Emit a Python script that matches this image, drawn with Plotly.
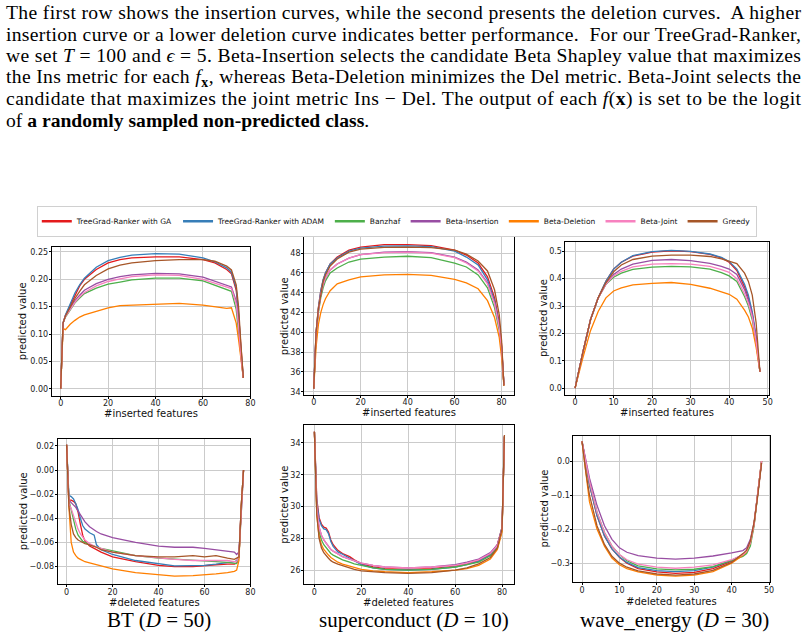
import json
import plotly.graph_objects as go

W, H = 805, 639

NAMES = ["TreeGrad-Ranker with GA", "TreeGrad-Ranker with ADAM", "Banzhaf",
         "Beta-Insertion", "Beta-Deletion", "Beta-Joint", "Greedy"]
COLORS = ["#e41a1c", "#377eb8", "#4daf4a", "#984ea3", "#ff7f00", "#f781bf", "#a65628"]

# ---------------- BT insertion ----------------
X1 = [0, 1, 2, 4, 6, 8, 10, 15, 20, 25, 30, 40, 50, 60, 65, 70, 72, 74, 75, 76, 77]
BT_INS = {
    "TreeGrad-Ranker with GA":   [0, 0.12, 0.134, 0.153, 0.172, 0.188, 0.2, 0.218, 0.23, 0.236, 0.239, 0.241, 0.241, 0.236, 0.23, 0.218, 0.21, 0.18, 0.135, 0.07, 0.02],
    "TreeGrad-Ranker with ADAM": [0, 0.12, 0.135, 0.155, 0.175, 0.19, 0.202, 0.222, 0.234, 0.240, 0.244, 0.247, 0.246, 0.239, 0.232, 0.221, 0.213, 0.185, 0.14, 0.07, 0.02],
    "Banzhaf":                   [0, 0.12, 0.131, 0.145, 0.157, 0.166, 0.174, 0.184, 0.191, 0.195, 0.199, 0.202, 0.202, 0.197, 0.189, 0.181, 0.178, 0.145, 0.1, 0.055, 0.02],
    "Beta-Insertion":            [0, 0.12, 0.133, 0.148, 0.161, 0.171, 0.18, 0.192, 0.2, 0.205, 0.208, 0.211, 0.21, 0.204, 0.196, 0.189, 0.186, 0.16, 0.12, 0.06, 0.02],
    "Beta-Deletion":             [0, 0.11, 0.108, 0.118, 0.125, 0.131, 0.135, 0.141, 0.148, 0.152, 0.153, 0.155, 0.156, 0.153, 0.150, 0.147, 0.148, 0.12, 0.09, 0.05, 0.02],
    "Beta-Joint":                [0, 0.12, 0.132, 0.146, 0.158, 0.168, 0.176, 0.188, 0.196, 0.201, 0.205, 0.208, 0.207, 0.200, 0.193, 0.186, 0.183, 0.155, 0.115, 0.06, 0.02],
    "Greedy":                    [0, 0.12, 0.133, 0.15, 0.165, 0.178, 0.19, 0.207, 0.219, 0.226, 0.23, 0.234, 0.236, 0.236, 0.233, 0.224, 0.217, 0.19, 0.15, 0.08, 0.02],
}

# ---------------- superconduct insertion ----------------
X2 = [0, 1, 2, 3, 4, 5, 7, 10, 15, 20, 30, 40, 50, 60, 65, 70, 74, 77, 79, 80, 81]
SC_INS = {
    "TreeGrad-Ranker with GA":   [34.3, 40.0, 42.5, 44.2, 45.3, 46.0, 46.9, 47.6, 48.3, 48.6, 48.85, 48.85, 48.75, 48.3, 47.8, 47.0, 45.6, 43.5, 41.0, 38.8, 34.7],
    "TreeGrad-Ranker with ADAM": [34.3, 40.0, 42.5, 44.2, 45.3, 46.0, 46.9, 47.5, 48.2, 48.5, 48.7, 48.72, 48.65, 48.2, 47.6, 46.8, 45.3, 43.2, 40.8, 38.6, 34.7],
    "Banzhaf":                   [34.3, 39.6, 42.0, 43.5, 44.5, 45.2, 46.0, 46.5, 47.1, 47.4, 47.6, 47.68, 47.55, 47.0, 46.6, 45.8, 44.5, 42.5, 40.2, 38.2, 34.7],
    "Beta-Insertion":            [34.3, 39.8, 42.2, 43.8, 44.8, 45.5, 46.3, 46.9, 47.5, 47.85, 48.1, 48.15, 48.05, 47.6, 47.1, 46.3, 45.0, 43.0, 40.6, 38.5, 34.7],
    "Beta-Deletion":             [34.3, 38.5, 40.8, 42.0, 42.8, 43.4, 44.2, 44.9, 45.3, 45.6, 45.8, 45.85, 45.75, 45.35, 45.0, 44.4, 43.2, 41.5, 39.5, 37.5, 34.6],
    "Beta-Joint":                [34.3, 39.8, 42.2, 43.8, 44.8, 45.5, 46.3, 46.9, 47.5, 47.85, 48.05, 48.1, 48.0, 47.55, 47.0, 46.2, 44.9, 42.9, 40.5, 38.4, 34.7],
    "Greedy":                    [34.3, 40.0, 42.4, 44.0, 45.1, 45.8, 46.7, 47.4, 48.1, 48.4, 48.58, 48.6, 48.55, 48.3, 47.9, 47.2, 46.2, 44.3, 41.8, 39.2, 34.6],
}

# ---------------- wave_energy insertion ----------------
X3 = [0, 1, 2, 4, 6, 8, 10, 12, 15, 20, 25, 30, 35, 38, 40, 42, 44, 45, 46, 47, 48]
WE_INS = {
    "TreeGrad-Ranker with GA":   [0, 0.07, 0.13, 0.25, 0.33, 0.39, 0.435, 0.46, 0.482, 0.497, 0.502, 0.499, 0.489, 0.476, 0.46, 0.43, 0.37, 0.33, 0.27, 0.18, 0.06],
    "TreeGrad-Ranker with ADAM": [0, 0.07, 0.13, 0.25, 0.33, 0.39, 0.435, 0.46, 0.484, 0.499, 0.503, 0.5, 0.49, 0.478, 0.463, 0.435, 0.38, 0.34, 0.28, 0.19, 0.06],
    "Banzhaf":                   [0, 0.07, 0.13, 0.25, 0.33, 0.38, 0.405, 0.42, 0.434, 0.442, 0.445, 0.443, 0.435, 0.422, 0.41, 0.39, 0.335, 0.3, 0.25, 0.165, 0.06],
    "Beta-Insertion":            [0, 0.07, 0.13, 0.25, 0.33, 0.38, 0.415, 0.435, 0.453, 0.467, 0.47, 0.466, 0.456, 0.445, 0.435, 0.415, 0.36, 0.32, 0.27, 0.18, 0.06],
    "Beta-Deletion":             [0, 0.06, 0.11, 0.21, 0.28, 0.33, 0.355, 0.366, 0.377, 0.383, 0.386, 0.379, 0.365, 0.352, 0.343, 0.325, 0.285, 0.26, 0.22, 0.15, 0.06],
    "Beta-Joint":                [0, 0.07, 0.13, 0.25, 0.33, 0.38, 0.41, 0.427, 0.443, 0.453, 0.455, 0.453, 0.445, 0.433, 0.423, 0.4, 0.345, 0.31, 0.26, 0.17, 0.06],
    "Greedy":                    [0, 0.07, 0.13, 0.25, 0.33, 0.385, 0.425, 0.45, 0.47, 0.482, 0.486, 0.486, 0.481, 0.472, 0.463, 0.455, 0.42, 0.39, 0.34, 0.24, 0.06],
}

# ---------------- BT deletion ----------------
X4 = [0, 1, 2, 3, 4, 5, 6, 7, 8, 10, 12, 13, 15, 20, 30, 40, 47, 55, 60, 65, 70, 73, 74, 75, 76, 77]
BT_DEL = {
    "TreeGrad-Ranker with GA":   [0.021, -0.025, -0.025, -0.026, -0.028, -0.035, -0.045, -0.054, -0.059, -0.063, -0.065, -0.066, -0.068, -0.072, -0.076, -0.079, -0.08, -0.08, -0.079, -0.0785, -0.078, -0.078, -0.077, -0.072, -0.03, 0.0],
    "TreeGrad-Ranker with ADAM": [0.021, -0.021, -0.022, -0.024, -0.028, -0.033, -0.04, -0.046, -0.049, -0.052, -0.054, -0.062, -0.066, -0.07, -0.075, -0.078, -0.0795, -0.0792, -0.079, -0.078, -0.077, -0.076, -0.075, -0.072, -0.03, 0.0],
    "Banzhaf":                   [0.021, -0.025, -0.033, -0.042, -0.049, -0.054, -0.057, -0.059, -0.06, -0.062, -0.063, -0.064, -0.065, -0.067, -0.071, -0.073, -0.074, -0.075, -0.0755, -0.076, -0.0765, -0.077, -0.0775, -0.072, -0.03, 0.0],
    "Beta-Insertion":            [0.021, -0.025, -0.027, -0.029, -0.031, -0.034, -0.037, -0.04, -0.043, -0.047, -0.05, -0.051, -0.053, -0.056, -0.06, -0.063, -0.064, -0.064, -0.065, -0.066, -0.067, -0.068, -0.07, -0.068, -0.035, 0.0],
    "Beta-Deletion":             [0.021, -0.03, -0.06, -0.068, -0.071, -0.073, -0.074, -0.075, -0.076, -0.077, -0.078, -0.079, -0.08, -0.082, -0.085, -0.087, -0.088, -0.0875, -0.087, -0.086, -0.085, -0.084, -0.083, -0.075, -0.03, 0.0],
    "Beta-Joint":                [0.021, -0.028, -0.032, -0.038, -0.044, -0.049, -0.053, -0.056, -0.058, -0.061, -0.063, -0.064, -0.065, -0.068, -0.071, -0.073, -0.074, -0.075, -0.075, -0.075, -0.075, -0.076, -0.076, -0.071, -0.03, 0.0],
    "Greedy":                    [0.021, -0.03, -0.045, -0.053, -0.056, -0.058, -0.059, -0.06, -0.061, -0.062, -0.063, -0.064, -0.066, -0.068, -0.071, -0.072, -0.072, -0.071, -0.072, -0.071, -0.073, -0.074, -0.073, -0.072, -0.03, 0.0],
}

# ---------------- superconduct deletion ----------------
X5 = [0, 1, 2, 3, 4, 5, 6, 7, 8, 10, 12, 15, 17, 20, 25, 30, 40, 50, 60, 65, 70, 75, 78, 80, 81]
SC_DEL = {
    "TreeGrad-Ranker with GA":   [34.7, 30.5, 29.3, 28.9, 28.7, 28.65, 28.4, 27.9, 27.6, 27.25, 27.05, 26.85, 26.65, 26.4, 26.2, 26.1, 26.05, 26.1, 26.25, 26.4, 26.6, 27.0, 27.6, 28.7, 34.4],
    "TreeGrad-Ranker with ADAM": [34.7, 30.3, 29.2, 28.8, 28.6, 28.55, 28.3, 27.8, 27.5, 27.15, 27.0, 26.75, 26.6, 26.35, 26.15, 26.05, 26.0, 26.05, 26.2, 26.35, 26.55, 26.95, 27.55, 28.7, 34.4],
    "Banzhaf":                   [34.7, 29.8, 28.4, 27.9, 27.6, 27.4, 27.2, 27.05, 26.95, 26.8, 26.65, 26.5, 26.4, 26.3, 26.15, 26.05, 26.0, 26.05, 26.2, 26.35, 26.5, 26.9, 27.4, 28.5, 34.4],
    "Beta-Insertion":            [34.7, 30.0, 28.7, 28.2, 27.9, 27.7, 27.5, 27.3, 27.2, 27.0, 26.85, 26.7, 26.6, 26.45, 26.3, 26.2, 26.15, 26.2, 26.35, 26.5, 26.7, 27.1, 27.6, 28.6, 34.4],
    "Beta-Deletion":             [34.7, 29.5, 28.1, 27.6, 27.3, 27.1, 26.95, 26.8, 26.7, 26.5, 26.38, 26.25, 26.15, 26.05, 25.95, 25.9, 25.85, 25.9, 26.0, 26.1, 26.3, 26.7, 27.3, 28.4, 34.4],
    "Beta-Joint":                [34.7, 30.0, 28.7, 28.2, 27.9, 27.7, 27.5, 27.3, 27.2, 27.0, 26.85, 26.7, 26.6, 26.45, 26.3, 26.2, 26.15, 26.2, 26.3, 26.45, 26.65, 27.05, 27.55, 28.6, 34.4],
    "Greedy":                    [34.7, 29.5, 28.0, 27.4, 27.1, 26.9, 26.75, 26.6, 26.5, 26.38, 26.28, 26.12, 26.05, 25.95, 25.88, 25.85, 25.8, 25.85, 26.0, 26.15, 26.4, 26.8, 27.4, 28.6, 34.5],
}

# ---------------- wave_energy deletion ----------------
X6 = [0, 1, 2, 4, 6, 8, 10, 12, 15, 20, 25, 30, 35, 40, 43, 44, 45, 46, 47, 48]
WE_DEL = {
    "TreeGrad-Ranker with GA":   [0.058, -0.01, -0.07, -0.16, -0.22, -0.258, -0.283, -0.3, -0.316, -0.326, -0.33, -0.327, -0.316, -0.294, -0.276, -0.265, -0.24, -0.185, -0.1, 0.0],
    "TreeGrad-Ranker with ADAM": [0.058, -0.01, -0.07, -0.16, -0.22, -0.258, -0.282, -0.298, -0.313, -0.322, -0.325, -0.322, -0.312, -0.292, -0.275, -0.265, -0.24, -0.185, -0.1, 0.0],
    "Banzhaf":                   [0.058, -0.005, -0.06, -0.15, -0.21, -0.25, -0.275, -0.293, -0.308, -0.317, -0.32, -0.318, -0.31, -0.292, -0.28, -0.272, -0.25, -0.19, -0.1, 0.0],
    "Beta-Insertion":            [0.058, 0.0, -0.05, -0.13, -0.19, -0.23, -0.255, -0.268, -0.278, -0.285, -0.288, -0.285, -0.279, -0.27, -0.263, -0.255, -0.23, -0.18, -0.1, -0.005],
    "Beta-Deletion":             [0.058, -0.04, -0.12, -0.2, -0.25, -0.285, -0.305, -0.316, -0.326, -0.335, -0.338, -0.335, -0.325, -0.3, -0.277, -0.266, -0.24, -0.185, -0.1, 0.0],
    "Beta-Joint":                [0.058, -0.005, -0.06, -0.15, -0.21, -0.25, -0.275, -0.29, -0.303, -0.312, -0.315, -0.312, -0.305, -0.29, -0.275, -0.265, -0.24, -0.185, -0.1, 0.0],
    "Greedy":                    [0.058, -0.03, -0.1, -0.19, -0.245, -0.28, -0.3, -0.312, -0.323, -0.332, -0.335, -0.332, -0.321, -0.298, -0.272, -0.262, -0.235, -0.18, -0.1, -0.005],
}

# panel specs: data, x, pixel box (left, top, right, bottom), x range, y range, y ticks, tick format, x title, x ticks
PANELS = [
    (BT_INS, X1, (52, 248, 252, 397), [-3.8, 80], [-0.0127, 0.2586], [0, 0.05, 0.10, 0.15, 0.20, 0.25], ".2f", "#inserted features", [0, 20, 40, 60, 80]),
    (SC_INS, X2, (306, 238, 517, 396), [-4.1, 85.2], [33.7, 49.6], [34, 36, 38, 40, 42, 44, 46, 48], "d", "#inserted features", [0, 20, 40, 60, 80]),
    (WE_INS, X3, (569, 243, 774, 396), [-2.5, 50.4], [-0.024, 0.533], [0, 0.1, 0.2, 0.3, 0.4, 0.5], ".1f", "#inserted features", [0, 10, 20, 30, 40, 50]),
    (BT_DEL, X4, (58, 440, 252, 586), [-3.9, 80], [-0.0946, 0.026], [-0.08, -0.06, -0.04, -0.02, 0.0, 0.02], ".2f", "#deleted features", [0, 20, 40, 60, 80]),
    (SC_DEL, X5, (306, 426, 517, 586), [-4.4, 85], [25.12, 35.15], [26, 28, 30, 32, 34], "d", "#deleted features", [0, 20, 40, 60, 80]),
    (WE_DEL, X6, (577, 437, 775, 584), [-2.3, 50.3], [-0.356, 0.075], [-0.3, -0.2, -0.1, 0.0], ".1f", "#deleted features", [0, 10, 20, 30, 40, 50]),
]
YTITLE_X = [23, 286, 547, 24, 286, 548]
XTITLE_Y = [414.5, 414, 414, 604, 604, 603.5]

CAPTIONS = ["BT (<i>D</i> = 50)", "superconduct (<i>D</i> = 10)", "wave_energy (<i>D</i> = 30)"]
CAPTION_X = [160, 417, 679]

PARAGRAPH = [
    "The first row shows the insertion curves, while the second presents the deletion curves.  A higher",
    "insertion curve or a lower deletion curve indicates better performance.  For our TreeGrad-Ranker,",
    "we set <i>T</i> = 100 and <i>ϵ</i> = 5. Beta-Insertion selects the candidate Beta Shapley value that maximizes",
    "the Ins metric for each <i>f</i><sub><b>x</b></sub>, whereas Beta-Deletion minimizes the Del metric. Beta-Joint selects the",
    "candidate that maximizes the joint metric Ins − Del. The output of each <i>f</i>(<b>x</b>) is set to be the logit",
    "of <b>a randomly sampled non-predicted class</b>.",
]
JUSTIFY_PREFIXES = ["The first row", "insertion curve or", "we set", "the Ins metric", "candidate that maximizes"]

fig = go.Figure()
layout = dict(width=W, height=H, margin=dict(l=0, r=0, t=0, b=0),
              paper_bgcolor="white", plot_bgcolor="white", showlegend=True)
annotations = []

for i, (data, xs, box, xr, yr, yt, yfmt, xtitle, xt) in enumerate(PANELS):
    k = "" if i == 0 else str(i + 1)
    l, t, r, b = box
    for name, col in zip(NAMES, COLORS):
        fig.add_trace(go.Scatter(x=xs, y=data[name], mode="lines", name=name,
                                 line=dict(color=col, width=1.3),
                                 xaxis="x" + k, yaxis="y" + k,
                                 showlegend=False, legendgroup=name))
    common = dict(showline=True, linecolor="black", linewidth=1, mirror=True,
                  showgrid=True, gridcolor="#cbcbcb", gridwidth=1.3, zeroline=False,
                  ticks="outside", ticklen=2, tickcolor="black", tickwidth=1,
                  tickfont=dict(family="DejaVu Sans", size=8, color="#222"))
    layout["xaxis" + k] = dict(domain=[l / W, r / W], range=xr, anchor="y" + k,
                               tickvals=xt, ticklabelstandoff=-2, **common)
    layout["yaxis" + k] = dict(domain=[1 - b / H, 1 - t / H], range=yr, anchor="x" + k,
                               tickvals=yt, tickformat=yfmt, ticklabelstandoff=-1, **common)
    annotations.append(dict(text="predicted value", textangle=-90, xref="paper", yref="paper",
                            x=YTITLE_X[i] / W, y=1 - (t + b) / 2 / H, showarrow=False,
                            xanchor="center", yanchor="middle",
                            font=dict(family="DejaVu Sans", size=10, color="#111")))
    annotations.append(dict(text=xtitle, xref="paper", yref="paper",
                            x=(l + r) / 2 / W, y=1 - XTITLE_Y[i] / H, showarrow=False,
                            xanchor="center", yanchor="middle",
                            font=dict(family="DejaVu Sans", size=10, color="#111")))

# legend entries (thicker keys, as in the reference legend)
for name, col in zip(NAMES, COLORS):
    fig.add_trace(go.Scatter(x=[None], y=[None], mode="lines", name=name,
                             line=dict(color=col, width=2.5), showlegend=True,
                             legendgroup=name, hoverinfo="skip"))

for cap, cx in zip(CAPTIONS, CAPTION_X):
    annotations.append(dict(text=cap, xref="paper", yref="paper", x=cx / W, y=1 - 622 / H,
                            showarrow=False, xanchor="center", yanchor="middle",
                            font=dict(family="Liberation Serif", size=21, color="black")))

for j, line in enumerate(PARAGRAPH):
    annotations.append(dict(text=line, xref="paper", yref="paper", x=4 / W,
                            y=1 - (12.7 + 21.7 * j) / H, showarrow=False,
                            xanchor="left", yanchor="middle",
                            font=dict(family="Liberation Serif", size=19.6, color="black")))

layout["annotations"] = annotations
layout["legend"] = dict(orientation="h", x=0.496, xanchor="center", y=1 - 222 / H, yanchor="middle",
                        font=dict(family="DejaVu Sans", size=7.5, color="#111"),
                        bordercolor="#d0d0d0", borderwidth=1, bgcolor="white",
                        itemwidth=30, tracegroupgap=0)
fig.update_layout(**layout)

# justify the full paragraph lines (like the typeset original) to a common width,
# keeping each line's left edge where it was
post = """
try {
  var prefixes = %s;
  var target = 795;
  document.querySelectorAll('.annotation-text').forEach(function(t) {
    var s = t.textContent || '';
    for (var i = 0; i < prefixes.length; i++) {
      if (s.indexOf(prefixes[i]) === 0) {
        var w = t.getComputedTextLength();
        if (w > 0 && w < target) {
          var b0 = t.getBBox();
          t.setAttribute('textLength', target);
          t.setAttribute('lengthAdjust', 'spacing');
          var b1 = t.getBBox();
          var dx = b0.x - b1.x;
          var tr = t.getAttribute('transform') || '';
          t.setAttribute('transform', 'translate(' + dx + ',0) ' + tr);
        }
      }
    }
  });
} catch (e) {}
""" % json.dumps(JUSTIFY_PREFIXES)
fig.write_html("out.html", post_script=post)
